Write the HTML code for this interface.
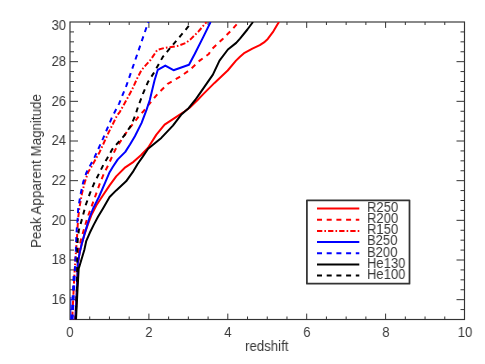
<!DOCTYPE html>
<html><head><meta charset="utf-8"><title>plot</title><style>
html,body{margin:0;padding:0;background:#fff;}
body{width:485px;height:364px;position:relative;overflow:hidden;font-family:"Liberation Sans",sans-serif;font-size:13px;color:#383838;}
.t{position:absolute;white-space:nowrap;line-height:13px;height:13px;will-change:transform;}
.yl{text-align:right;width:40px;left:26.4px;font-size:14px;transform:scaleX(0.93);transform-origin:100% 50%;}
.xl{text-align:center;width:40px;font-size:14px;transform:scaleX(0.93);transform-origin:50% 50%;}
.lg{left:366.7px;font-size:14px;transform:scaleX(0.93);transform-origin:0 50%;}
</style></head><body>
<svg width="485" height="364" viewBox="0 0 485 364" style="position:absolute;left:0;top:0">
<defs><clipPath id="c"><rect x="70.0" y="22.0" width="394.5" height="297.5"/></clipPath><clipPath id="c2"><rect x="60" y="276" width="40" height="50"/></clipPath></defs>
<rect x="70.0" y="22.0" width="394.5" height="297.5" fill="none" stroke="#333333" stroke-width="1.15"/>
<path d="M89.72,319.5 v-3.0 M89.72,22.0 v3.0 M109.45,319.5 v-3.0 M109.45,22.0 v3.0 M129.18,319.5 v-3.0 M129.18,22.0 v3.0 M148.90,319.5 v-5.9 M148.90,22.0 v5.9 M168.62,319.5 v-3.0 M168.62,22.0 v3.0 M188.35,319.5 v-3.0 M188.35,22.0 v3.0 M208.08,319.5 v-3.0 M208.08,22.0 v3.0 M227.80,319.5 v-5.9 M227.80,22.0 v5.9 M247.53,319.5 v-3.0 M247.53,22.0 v3.0 M267.25,319.5 v-3.0 M267.25,22.0 v3.0 M286.98,319.5 v-3.0 M286.98,22.0 v3.0 M306.70,319.5 v-5.9 M306.70,22.0 v5.9 M326.43,319.5 v-3.0 M326.43,22.0 v3.0 M346.15,319.5 v-3.0 M346.15,22.0 v3.0 M365.88,319.5 v-3.0 M365.88,22.0 v3.0 M385.60,319.5 v-5.9 M385.60,22.0 v5.9 M405.33,319.5 v-3.0 M405.33,22.0 v3.0 M425.05,319.5 v-3.0 M425.05,22.0 v3.0 M444.78,319.5 v-3.0 M444.78,22.0 v3.0 M70.0,309.58 h4.0 M464.5,309.58 h-4.0 M70.0,299.67 h8.0 M464.5,299.67 h-8.0 M70.0,289.75 h4.0 M464.5,289.75 h-4.0 M70.0,279.83 h4.0 M464.5,279.83 h-4.0 M70.0,269.92 h4.0 M464.5,269.92 h-4.0 M70.0,260.00 h8.0 M464.5,260.00 h-8.0 M70.0,250.08 h4.0 M464.5,250.08 h-4.0 M70.0,240.17 h4.0 M464.5,240.17 h-4.0 M70.0,230.25 h4.0 M464.5,230.25 h-4.0 M70.0,220.33 h8.0 M464.5,220.33 h-8.0 M70.0,210.42 h4.0 M464.5,210.42 h-4.0 M70.0,200.50 h4.0 M464.5,200.50 h-4.0 M70.0,190.58 h4.0 M464.5,190.58 h-4.0 M70.0,180.67 h8.0 M464.5,180.67 h-8.0 M70.0,170.75 h4.0 M464.5,170.75 h-4.0 M70.0,160.83 h4.0 M464.5,160.83 h-4.0 M70.0,150.92 h4.0 M464.5,150.92 h-4.0 M70.0,141.00 h8.0 M464.5,141.00 h-8.0 M70.0,131.08 h4.0 M464.5,131.08 h-4.0 M70.0,121.17 h4.0 M464.5,121.17 h-4.0 M70.0,111.25 h4.0 M464.5,111.25 h-4.0 M70.0,101.33 h8.0 M464.5,101.33 h-8.0 M70.0,91.42 h4.0 M464.5,91.42 h-4.0 M70.0,81.50 h4.0 M464.5,81.50 h-4.0 M70.0,71.58 h4.0 M464.5,71.58 h-4.0 M70.0,61.67 h8.0 M464.5,61.67 h-8.0 M70.0,51.75 h4.0 M464.5,51.75 h-4.0 M70.0,41.83 h4.0 M464.5,41.83 h-4.0 M70.0,31.92 h4.0 M464.5,31.92 h-4.0" stroke="#333333" stroke-width="1.0" fill="none"/>
<g clip-path="url(#c)" fill="none" stroke-width="2.0" stroke-linejoin="round">
<path d="M75.4,319.6 L77.1,286.0 L77.5,275.0 L77.8,262.9 L79.9,251.6 L81.8,243.7 L84.4,234.8 L87.7,224.9 L91.4,215.1 L96.4,205.2 L103.0,195.3 L109.6,185.4 L116.2,176.4 L125.3,167.3 L133.5,161.8 L140.9,155.2 L148.1,147.8 L156.4,134.6 L164.6,124.7 L174.5,118.1 L184.4,111.5 L189.6,107.8 L197.6,100.0 L203.0,94.4 L214.5,82.9 L227.7,70.5 L236.0,60.6 L240.0,56.7 L244.6,52.8 L252.4,48.6 L259.8,45.2 L264.0,42.4 L267.8,38.9 L273.4,31.3 L277.1,25.1 L279.0,22.0" stroke="#ff0000"/>
<path d="M75.4,319.6 L77.1,286.0 L78.0,265.0 L78.9,249.7 L80.9,239.8 L83.8,229.9 L87.3,218.0 L91.4,206.9 L95.6,195.3 L99.7,183.8 L103.8,173.9 L108.8,164.0 L111.2,158.5 L115.4,149.5 L121.1,140.4 L127.7,130.5 L134.3,122.2 L139.3,115.6 L143.0,111.8 L149.6,103.6 L157.8,93.7 L167.7,83.8 L179.3,77.2 L189.8,70.0 L199.7,60.6 L208.8,54.0 L211.4,49.5 L223.0,38.7 L231.2,30.5 L238.7,22.0" stroke="#ff0000" stroke-dasharray="5 4.7" stroke-dashoffset="1.2"/>
<path d="M72.2,319.6 L73.8,286.0 L74.7,269.8 L76.1,250.0 L76.9,239.8 L77.4,229.9 L78.2,218.0 L79.3,208.5 L81.9,193.7 L84.8,182.1 L88.1,172.2 L91.4,166.8 L99.7,151.9 L108.8,132.1 L117.0,115.6 L119.9,111.8 L128.1,97.0 L132.4,88.9 L137.3,78.1 L141.4,70.3 L145.6,65.4 L150.5,60.0 L157.3,49.9 L164.7,47.9 L177.1,46.1 L185.8,43.0 L190.5,39.4 L198.1,31.9 L206.5,22.0" stroke="#ff0000" stroke-dasharray="5.3 2.1 1.6 2.1" stroke-dashoffset="-2.7"/>
<path d="M75.4,319.6 L77.1,286.0 L77.5,275.0 L77.8,262.9 L79.9,251.6 L81.8,243.7 L84.3,234.8 L87.3,224.9 L89.8,216.8 L93.1,208.5 L98.9,197.0 L104.6,183.8 L109.6,172.2 L112.9,166.8 L117.8,159.4 L125.3,151.9 L130.0,144.5 L134.9,136.3 L141.5,123.1 L146.5,109.9 L149.8,100.0 L154.5,80.5 L157.8,69.8 L165.3,65.6 L173.5,70.2 L189.0,64.7 L194.7,54.0 L203.2,37.1 L210.6,22.0" stroke="#0000ff"/>
<path d="M72.6,319.6 L74.2,286.0 L74.9,269.8 L75.9,249.7 L76.2,239.8 L76.7,229.9 L77.7,218.0 L78.2,208.5 L80.7,193.7 L83.2,182.1 L86.5,172.4 L94.7,156.9 L103.0,138.7 L112.0,117.3 L119.1,103.6 L126.5,85.4 L133.9,64.0 L148.3,22.0" stroke="#0000ff" stroke-dasharray="5 4.7"/>
<path d="M72.6,319.6 L74.2,286.0 L74.9,269.8 L75.9,249.7 L76.2,239.8 L76.7,229.9 L77.7,218.0 L78.2,208.5 L80.7,193.7 L83.2,182.1 L86.5,172.4 L94.7,156.9 L103.0,138.7 L112.0,117.3 L119.1,103.6 L126.5,85.4 L133.9,64.0 L148.3,22.0" stroke="#0000ff" stroke-dasharray="5 4.7" transform="translate(-1.0,0)" clip-path="url(#c2)"/>
<path d="M70.9,297 L70.8,320" stroke="#0000ff" stroke-width="1.0"/>
<path d="M76.0,319.6 L77.7,285.6 L78.7,268.8 L84.3,250.0 L86.3,240.8 L89.8,232.8 L93.7,224.9 L98.0,216.8 L103.0,208.5 L109.6,197.0 L116.2,190.4 L126.1,181.3 L132.7,172.2 L137.6,164.0 L142.6,156.9 L148.1,148.7 L161.3,137.9 L172.9,125.6 L181.1,114.8 L188.6,108.2 L195.2,100.0 L199.7,93.6 L212.9,74.6 L219.5,60.6 L227.9,49.5 L236.2,42.9 L240.0,38.7 L247.4,29.5 L253.0,22.0" stroke="#000000"/>
<path d="M75.6,319.6 L77.0,286.0 L77.2,268.0 L77.3,249.7 L77.7,239.8 L78.9,229.9 L82.3,218.0 L85.7,205.2 L89.8,193.7 L93.9,183.8 L98.9,173.9 L103.8,164.0 L107.1,158.5 L112.1,149.5 L117.8,142.9 L124.4,135.4 L131.0,125.5 L135.2,115.6 L138.0,106.9 L143.0,93.7 L147.9,82.1 L153.7,73.1 L162.8,56.9 L171.0,47.0 L180.9,35.4 L190.0,24.5 L191.5,22.0" stroke="#000000" stroke-dasharray="5 4.7" stroke-dashoffset="1.0"/>
</g>
<rect x="306.9" y="200.25" width="102.6" height="83.4" fill="#fff" stroke="#333333" stroke-width="1.75" stroke-linejoin="round"/>
<path d="M317,208.60 H359.3" stroke="#ff0000" stroke-width="2.0" fill="none"/>
<path d="M317,219.77 H359.3" stroke="#ff0000" stroke-width="2.0" fill="none" stroke-dasharray="5 4.7"/>
<path d="M317,230.94 H359.3" stroke="#ff0000" stroke-width="2.0" fill="none" stroke-dasharray="5.3 2.1 1.6 2.1"/>
<path d="M317,242.11 H359.3" stroke="#0000ff" stroke-width="2.0" fill="none"/>
<path d="M317,253.28 H359.3" stroke="#0000ff" stroke-width="2.0" fill="none" stroke-dasharray="5 4.7"/>
<path d="M317,264.45 H359.3" stroke="#000000" stroke-width="2.0" fill="none"/>
<path d="M317,275.62 H359.3" stroke="#000000" stroke-width="2.0" fill="none" stroke-dasharray="5 4.7"/>
</svg>
<div class="t yl" style="top:292.87px">16</div>
<div class="t yl" style="top:253.20px">18</div>
<div class="t yl" style="top:213.53px">20</div>
<div class="t yl" style="top:173.87px">22</div>
<div class="t yl" style="top:134.20px">24</div>
<div class="t yl" style="top:94.53px">26</div>
<div class="t yl" style="top:54.87px">28</div>
<div class="t yl" style="top:19.00px">30</div>
<div class="t xl" style="left:50.40px;top:325.7px">0</div>
<div class="t xl" style="left:129.30px;top:325.7px">2</div>
<div class="t xl" style="left:208.20px;top:325.7px">4</div>
<div class="t xl" style="left:287.10px;top:325.7px">6</div>
<div class="t xl" style="left:366.00px;top:325.7px">8</div>
<div class="t xl" style="left:444.90px;top:325.7px">10</div>
<div class="t" style="left:245.4px;top:340.2px;font-size:14px;transform:scaleX(0.945);transform-origin:0 50%">redshift</div>
<div class="t" style="left:36.4px;top:170.7px;width:0;height:0"><div style="position:absolute;white-space:nowrap;font-size:14px;transform:translate(-50%,-50%) rotate(-90deg) scaleX(0.955);line-height:14px">Peak Apparent Magnitude</div></div>
<div class="t lg" style="top:200.90px">R250</div>
<div class="t lg" style="top:212.07px">R200</div>
<div class="t lg" style="top:223.24px">R150</div>
<div class="t lg" style="top:234.41px">B250</div>
<div class="t lg" style="top:245.58px">B200</div>
<div class="t lg" style="top:256.75px">He130</div>
<div class="t lg" style="top:267.92px">He100</div>
</body></html>
